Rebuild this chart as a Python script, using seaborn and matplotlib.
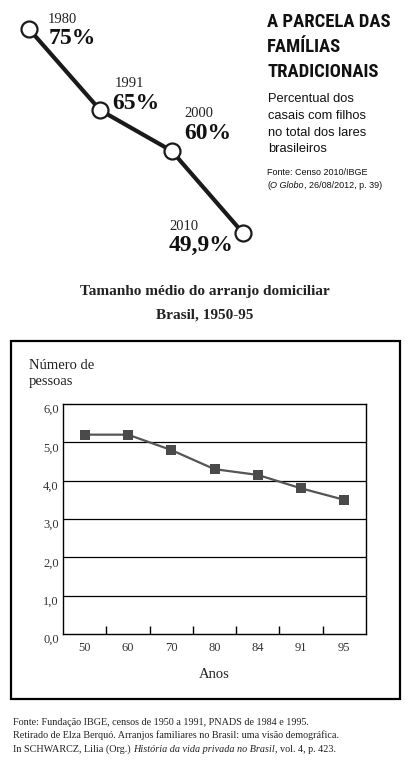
import numpy as np
import matplotlib
matplotlib.use("Agg")
import matplotlib.pyplot as plt
import matplotlib.font_manager as fm
from matplotlib.patches import Rectangle
import seaborn as sns

# 1. dados - parcela das familias tradicionais
anos_top = ["1980", "1991", "2000", "2010"]
parcela = [75, 65, 60, 49.9]

# 2. dados - tamanho medio do arranjo domiciliar
anos_bot = ["50", "60", "70", "80", "84", "91", "95"]
pessoas = [5.2, 5.2, 4.8, 4.3, 4.15, 3.8, 3.5]
yticks = [0, 1, 2, 3, 4, 5, 6]

W, H = 408, 766

sns.set_style("white")
plt.rcParams["font.family"] = ["Liberation Serif", "DejaVu Serif"]

# procura uma fonte sans estreita e negrito para o titulo da direita
def _peso(w):
    try:
        return int(w)
    except (TypeError, ValueError):
        return 700 if "bold" in str(w) else 400

estreitas = [f for f in fm.fontManager.ttflist
             if _peso(f.weight) >= 600 and f.style == "normal"
             and ("Narrow" in f.name or "Condensed" in f.name
                  or "condensed" in str(f.stretch))
             and "Serif" not in f.name and "Mono" not in f.name]
ordem = ["Liberation Sans Narrow", "Roboto Condensed", "DejaVu Sans", "Open Sans"]
estreitas.sort(key=lambda f: next((i for i, n in enumerate(ordem) if n in f.name), 99))
if estreitas:
    fp_tit = fm.FontProperties(fname=estreitas[0].fname)
else:
    fp_tit = fm.FontProperties(family="Liberation Sans", weight="bold")

fig = plt.figure(figsize=(W / 100, H / 100), dpi=100)
fig.patch.set_facecolor("white")
renderer = fig.canvas.get_renderer()


def fx(x):
    return x / W


def fy(y):
    return 1 - y / H


def largura(s, **kw):
    # largura de um pedaco de texto (conta os espacos tambem)
    a = fig.text(0, 0, "|" + s + "|", **kw)
    b = fig.text(0, 0, "||", **kw)
    w = a.get_window_extent(renderer).width - b.get_window_extent(renderer).width
    a.remove()
    b.remove()
    return w


def texto(x, y, partes, **kw):
    # pedacos de texto em sequencia, normal / italico
    for s, estilo in partes:
        fig.text(fx(x), fy(y), s, style=estilo, va="baseline", **kw)
        x += largura(s, style=estilo, **kw)


# ---------------- grafico de cima ----------------
ax1 = fig.add_axes([fx(29), fy(233), 214 / W, 204 / H])
sns.lineplot(x=np.arange(len(parcela)), y=parcela, ax=ax1, color="#1a1a1a",
             linewidth=3, marker="o", markersize=11.5, markerfacecolor="white",
             markeredgecolor="#1a1a1a", markeredgewidth=1.6, clip_on=False)
ax1.set_xlim(0, len(parcela) - 1)
ax1.set_ylim(min(parcela), max(parcela))
ax1.axis("off")

# deslocamentos (pixels) dos rotulos: ano e percentual
desl_ano = [(19, 6), (14, 23), (13, 34), (-74, 3)]
desl_pct = [(20, -15), (12, 1), (13, 12), (-74, -18)]
for i, (ano, v) in enumerate(zip(anos_top, parcela)):
    ax1.annotate(ano, (i, v), xytext=desl_ano[i], textcoords="offset pixels",
                 fontsize=10.5, va="baseline", color="#222")
    ax1.annotate(f"{v:g}%".replace(".", ","), (i, v), xytext=desl_pct[i],
                 textcoords="offset pixels", fontsize=17, fontweight="bold",
                 va="baseline", color="#111")

# titulo da direita (tamanho ajustado para a largura do original)
fp_tit.set_size(10)
w10 = largura("A PARCELA DAS", fontproperties=fp_tit)
fp_tit.set_size(min(14, 10 * 123 / w10))
for s, yb in zip(["A PARCELA DAS", "FAMÍLIAS", "TRADICIONAIS"], [27, 52, 77]):
    fig.text(fx(267), fy(yb), s, fontproperties=fp_tit, va="baseline",
             color="#111")
for s, yb in zip(["Percentual dos", "casais com filhos", "no total dos lares",
                  "brasileiros"], [102, 119, 136, 152]):
    fig.text(fx(268), fy(yb), s, family="Liberation Sans", fontsize=9.3,
             va="baseline", color="#111")
fig.text(fx(267), fy(175), "Fonte: Censo 2010/IBGE", family="Liberation Sans",
         fontsize=6.5, va="baseline", color="#111")
texto(267, 188, [("(", "normal"), ("O Globo", "italic"),
                 (", 26/08/2012, p. 39)", "normal")],
      family="Liberation Sans", fontsize=6.5, color="#111")

# ---------------- titulo do meio ----------------
fig.text(fx(205), fy(295), "Tamanho médio do arranjo domiciliar", ha="center",
         va="baseline", fontsize=11, fontweight="bold", color="#222")
fig.text(fx(205), fy(319), "Brasil, 1950-95", ha="center", va="baseline",
         fontsize=11, fontweight="bold", color="#222")

# caixa
fig.add_artist(Rectangle((fx(11), fy(699)), 389 / W, 358 / H,
                         transform=fig.transFigure, fill=False, lw=1.6,
                         ec="black"))

# ---------------- grafico de baixo ----------------
ax2 = fig.add_axes([fx(63), fy(634), 303 / W, 230 / H])
for v in yticks[1:-1]:
    ax2.axhline(v, color="black", lw=0.9, zorder=1)
sns.lineplot(x=np.arange(len(pessoas)), y=pessoas, ax=ax2, color="#555555",
             linewidth=1.6, marker="s", markersize=7, markerfacecolor="#4a4a4a",
             markeredgecolor="#4a4a4a", markeredgewidth=0, zorder=3)
ax2.set_xlim(-0.5, len(pessoas) - 0.5)
ax2.set_ylim(yticks[0], yticks[-1])
ax2.set_yticks(yticks)
ax2.set_yticklabels([f"{v:.1f}".replace(".", ",") for v in yticks])
ax2.set_xticks(np.arange(len(anos_bot)))
ax2.set_xticklabels(anos_bot)
ax2.set_xticks(np.arange(0.5, len(anos_bot) - 1), minor=True)
ax2.tick_params(axis="x", which="major", length=0, pad=5.5, labelsize=9,
                labelcolor="#333")
ax2.tick_params(axis="x", which="minor", direction="in", length=6, width=1,
                color="black", bottom=True)
ax2.tick_params(axis="y", length=0, pad=3, labelsize=9, labelcolor="#333")
plt.setp(ax2.get_yticklabels(), va="top")
for sp in ax2.spines.values():
    sp.set_visible(True)
    sp.set_color("black")
    sp.set_linewidth(1)
ax2.set_xlabel("Anos", fontsize=10.5, labelpad=10.5, color="#222")
ax2.set_ylabel("")

fig.text(fx(29), fy(369), "Número de", fontsize=10.5, va="baseline", color="#222")
fig.text(fx(29), fy(385), "pessoas", fontsize=10.5, va="baseline", color="#222")

# ---------------- fonte ----------------
kw_f = dict(fontsize=7.3, color="#222")
texto(13, 725, [("Fonte: Fundação IBGE, censos de 1950 a 1991, PNADS de 1984 e 1995.",
                 "normal")], **kw_f)
texto(13, 738, [("Retirado de Elza Berquó. Arranjos familiares no Brasil: "
                 "uma visão demográfica.", "normal")], **kw_f)
texto(13, 752, [("In SCHWARCZ, Lilia (Org.) ", "normal"),
                ("História da vida privada no Brasil", "italic"),
                (", vol. 4, p. 423.", "normal")], **kw_f)

fig.savefig("out.png", dpi=100)
